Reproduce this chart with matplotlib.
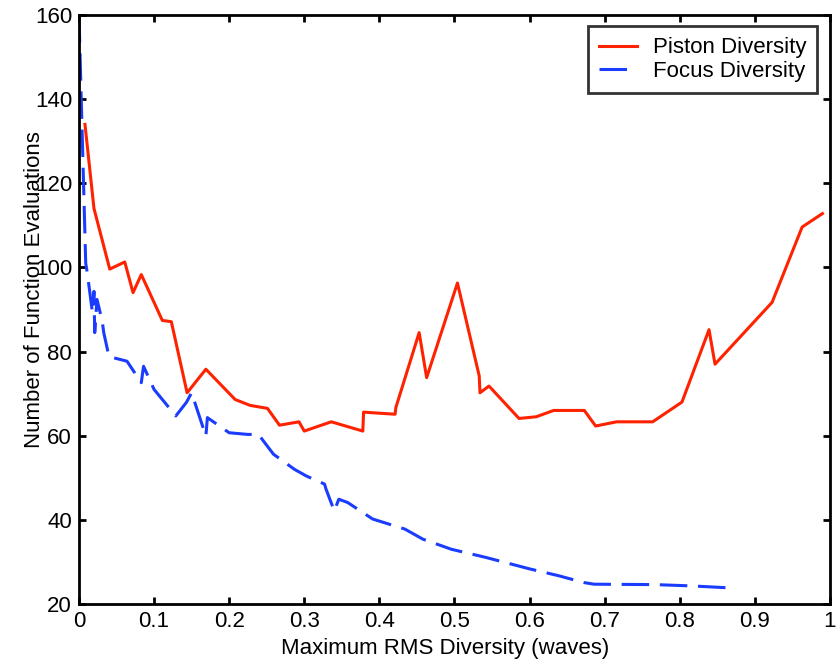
import matplotlib
matplotlib.use("Agg")
import matplotlib.pyplot as plt

plt.rcParams['font.family'] = ['Liberation Sans', 'DejaVu Sans']

# Piston diversity curve
piston_x = [0.008, 0.020, 0.041, 0.061, 0.072, 0.083, 0.111, 0.123, 0.144, 0.169,
            0.208, 0.228, 0.251, 0.267, 0.293, 0.300, 0.336, 0.378, 0.379, 0.421,
            0.422, 0.453, 0.463, 0.504, 0.533, 0.534, 0.546, 0.586, 0.609, 0.632,
            0.673, 0.688, 0.716, 0.764, 0.803, 0.839, 0.847, 0.923, 0.963, 0.990]
piston_y = [134.0, 114.0, 99.6, 101.3, 94.0, 98.3, 87.4, 87.1, 70.2, 75.8,
            68.6, 67.2, 66.5, 62.5, 63.3, 61.1, 63.3, 61.1, 65.6, 65.1,
            66.7, 84.5, 73.8, 96.3, 74.2, 70.2, 71.8, 64.1, 64.5, 66.0,
            66.0, 62.3, 63.3, 63.3, 68.0, 85.2, 77.0, 91.7, 109.6, 112.8]

# Focus diversity curve
focus_x = [0.000, 0.009, 0.011, 0.018, 0.020, 0.021, 0.024, 0.031, 0.033, 0.040,
           0.064, 0.083, 0.086, 0.100, 0.129, 0.143, 0.150, 0.169, 0.171, 0.200,
           0.225, 0.239, 0.259, 0.287, 0.303, 0.327, 0.329, 0.340, 0.346, 0.358,
           0.391, 0.434, 0.458, 0.496, 0.541, 0.601, 0.639, 0.672, 0.686, 0.767,
           0.815, 0.869]
focus_y = [160.0, 101.0, 98.8, 89.2, 94.3, 84.5, 92.4, 87.2, 84.5, 78.8,
           77.7, 72.6, 76.5, 71.0, 64.7, 67.9, 70.2, 59.9, 64.3, 60.7,
           60.3, 60.3, 55.6, 52.0, 50.4, 48.5, 47.3, 42.1, 44.9, 44.1,
           40.2, 37.8, 35.4, 33.0, 31.1, 28.3, 26.7, 25.1, 24.7, 24.6,
           24.3, 23.8]

xticks = [0, 0.1, 0.2, 0.3, 0.4, 0.5, 0.6, 0.7, 0.8, 0.9, 1]
xtick_labels = ['0', '0.1', '0.2', '0.3', '0.4', '0.5', '0.6', '0.7', '0.8', '0.9', '1']
yticks = [20, 40, 60, 80, 100, 120, 140, 160]

fig = plt.figure(figsize=(8.4, 6.67), dpi=100)
ax = fig.add_axes([0.094, 0.0945, 0.894, 0.883])

ax.plot(piston_x, piston_y, color='#ff2200', linewidth=2.2, label='Piston Diversity')
ax.plot(focus_x, focus_y, color='#1a3cff', linewidth=2.2, linestyle='--',
        dashes=(9, 3.5), label='Focus Diversity')

ax.set_xlim(0, 1)
ax.set_ylim(20, 160)
ax.set_xticks(xticks)
ax.set_xticklabels(xtick_labels)
ax.set_yticks(yticks)
ax.tick_params(direction='in', length=5, width=2, top=True, right=True,
               labelsize=16, pad=5)
for s in ax.spines.values():
    s.set_linewidth(2)

ax.set_xlabel('Maximum RMS Diversity (waves)', fontsize=16)
ax.xaxis.set_label_coords(0.487, -0.058)
ax.set_ylabel('Number of Function Evaluations', fontsize=16)
ax.yaxis.set_label_coords(-0.045, 0.533)

leg = ax.legend(loc='upper right', bbox_to_anchor=(0.983, 0.981), fontsize=16,
                frameon=True, fancybox=False, borderaxespad=0, handlelength=1.7,
                borderpad=0.5, labelspacing=0.1, handletextpad=0.7)
leg.get_frame().set_edgecolor('black')
leg.get_frame().set_linewidth(2)

fig.savefig('out.png', dpi=100)
